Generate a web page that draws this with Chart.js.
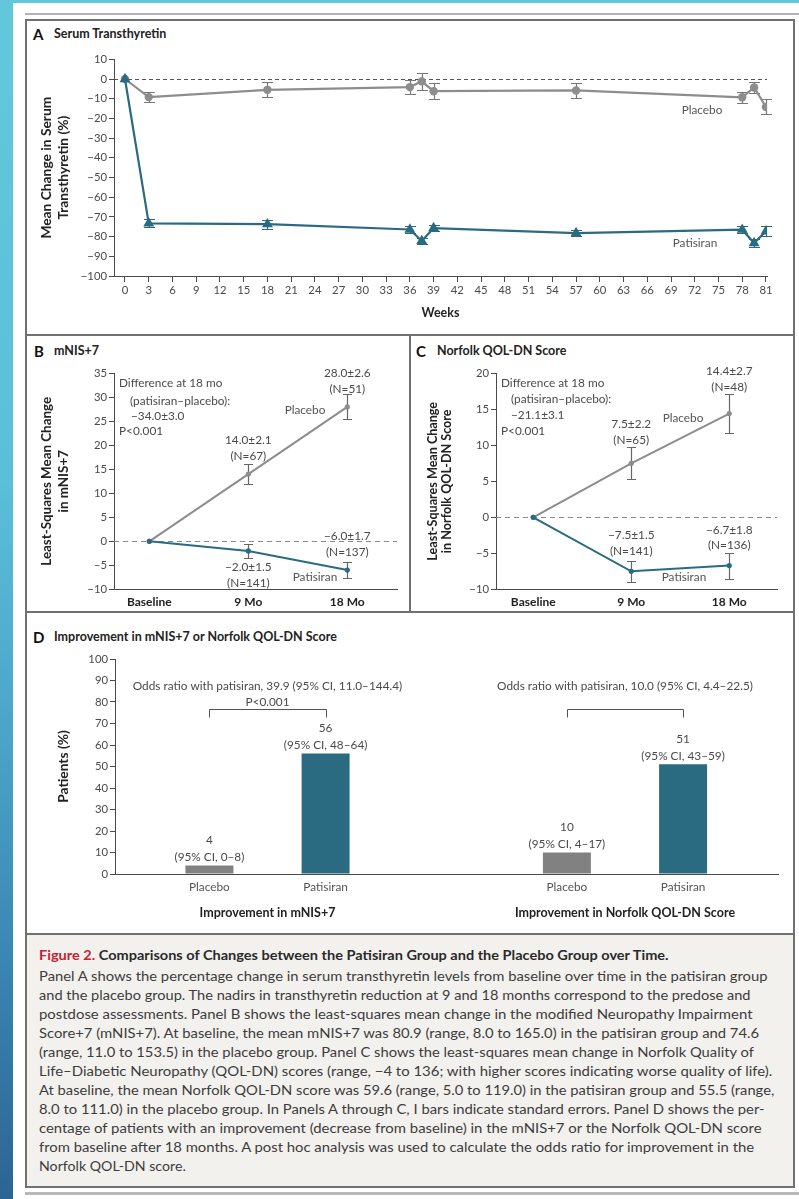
<!DOCTYPE html>
<html>
<head>
<meta charset="utf-8">
<title>Patisiran vs Placebo — Figure 2</title>
<script src="https://cdn.jsdelivr.net/npm/chart.js@4.4.1/dist/chart.umd.min.js"></script>
<style>
  html, body { margin:0; padding:0; background:#fff; }
  body { position:relative; width:799px; height:1199px; overflow:hidden; font-family:Lato,"Open Sans",sans-serif; color:#444; }
  .a { position:absolute; white-space:nowrap; line-height:1; }
  .c { transform:translate(-50%,-50%); }
  .l { transform:translateY(-50%); }
  canvas { position:absolute; }
  .pletter { font-weight:700; font-size:15px; color:#111; }
  .ptitle { font-weight:700; font-size:12.5px; color:#222; }
  .note { font-size:11.8px; color:#4a4a4a; }
  .series { font-size:11.8px; color:#555; }
  #strip { left:0; top:0; width:13px; height:1199px; background:linear-gradient(to bottom,#63c7dc 0%,#5bbfd9 40%,#4aa3c8 62%,#3a86b4 80%,#2c6494 100%); }
  #topband { left:13px; top:0; width:786px; height:3px; background:#62c6dc; }
  #ruleTop { left:25px; top:13px; width:774px; height:2px; background:#b3b3b3; }
  #frame { left:25px; top:19px; width:770px; height:1169px; border:2px solid #717171; box-sizing:border-box; }
  .sep { position:absolute; background:#717171; }
  #capbg { left:27px; top:935px; width:766px; height:251px; background:#f3f1ee; }
  #ruleBot { left:25px; top:1192px; width:774px; height:3px; background:#b8b8b8; }
  .capline { font-size:13.5px; color:#3c3c3c; transform-origin:0 50%; }
  .captitle { font-size:14px; font-weight:700; color:#2a2a2a; transform-origin:0 50%; }
  .captitle span { color:#c8202f; }
</style>
</head>
<body>
<div class="a" id="strip"></div>
<div class="a" id="topband"></div>
<div class="a" id="ruleTop"></div>
<div class="a" id="capbg"></div>
<div class="a" id="frame"></div>
<div class="sep" style="left:25px;top:334px;width:770px;height:2px;"></div>
<div class="sep" style="left:409px;top:335px;width:2px;height:277px;"></div>
<div class="sep" style="left:25px;top:611px;width:770px;height:2px;"></div>
<div class="sep" style="left:25px;top:933px;width:770px;height:2px;"></div>
<div class="a" id="ruleBot"></div>

<!-- panel headings -->
<div class="a l pletter" style="left:33px;top:34px;">A</div>
<div class="a l ptitle" style="left:54px;top:34px;">Serum Transthyretin</div>
<div class="a l pletter" style="left:34px;top:351px;">B</div>
<div class="a l ptitle" style="left:54px;top:351px;">mNIS+7</div>
<div class="a l pletter" style="left:416px;top:351px;">C</div>
<div class="a l ptitle" style="left:437px;top:351px;">Norfolk QOL-DN Score</div>
<div class="a l pletter" style="left:33px;top:637px;">D</div>
<div class="a l ptitle" style="left:54px;top:637px;">Improvement in mNIS+7 or Norfolk QOL-DN Score</div>

<canvas id="chartA" width="760" height="280" style="left:30px;top:45px;"></canvas>
<canvas id="chartB" width="375" height="250" style="left:30px;top:360px;"></canvas>
<canvas id="chartC" width="378" height="250" style="left:412px;top:360px;"></canvas>
<canvas id="chartD" width="760" height="285" style="left:30px;top:640px;"></canvas>

<!-- series names and summary notes -->
<div class="a c series" style="left:702px;top:110px;">Placebo</div>
<div class="a c series" style="left:695px;top:243px;">Patisiran</div>

<div class="a l note" style="left:119px;top:383px;">Difference at 18 mo</div>
<div class="a l note" style="left:130px;top:401px;">(patisiran–placebo):</div>
<div class="a l note" style="left:131px;top:416px;">−34.0±3.0</div>
<div class="a l note" style="left:119px;top:431px;">P&lt;0.001</div>
<div class="a c series" style="left:305px;top:410px;">Placebo</div>
<div class="a c series" style="left:315px;top:577px;">Patisiran</div>

<div class="a l note" style="left:501px;top:383px;">Difference at 18 mo</div>
<div class="a l note" style="left:511px;top:399px;">(patisiran–placebo):</div>
<div class="a l note" style="left:511px;top:415px;">−21.1±3.1</div>
<div class="a l note" style="left:501px;top:431px;">P&lt;0.001</div>
<div class="a c series" style="left:683px;top:418px;">Placebo</div>
<div class="a c series" style="left:684px;top:577px;">Patisiran</div>

<!-- legend text -->
<div class="a l captitle" style="left:39px;top:955px;"><span>Figure 2.</span> Comparisons of Changes between the Patisiran Group and the Placebo Group over Time.</div>
<div class="a l capline" style="left:39px;top:977px;">Panel A shows the percentage change in serum transthyretin levels from baseline over time in the patisiran group</div>
<div class="a l capline" style="left:39px;top:996px;">and the placebo group. The nadirs in transthyretin reduction at 9 and 18 months correspond to the predose and</div>
<div class="a l capline" style="left:39px;top:1015px;">postdose assessments. Panel B shows the least-squares mean change in the modified Neuropathy Impairment</div>
<div class="a l capline" style="left:39px;top:1034px;">Score+7 (mNIS+7). At baseline, the mean mNIS+7 was 80.9 (range, 8.0 to 165.0) in the patisiran group and 74.6</div>
<div class="a l capline" style="left:39px;top:1053px;">(range, 11.0 to 153.5) in the placebo group. Panel C shows the least-squares mean change in Norfolk Quality of</div>
<div class="a l capline" style="left:39px;top:1072px;">Life–Diabetic Neuropathy (QOL-DN) scores (range, −4 to 136; with higher scores indicating worse quality of life).</div>
<div class="a l capline" style="left:39px;top:1091px;">At baseline, the mean Norfolk QOL-DN score was 59.6 (range, 5.0 to 119.0) in the patisiran group and 55.5 (range,</div>
<div class="a l capline" style="left:39px;top:1110px;">8.0 to 111.0) in the placebo group. In Panels A through C, I bars indicate standard errors. Panel D shows the per-</div>
<div class="a l capline" style="left:39px;top:1129px;">centage of patients with an improvement (decrease from baseline) in the mNIS+7 or the Norfolk QOL-DN score</div>
<div class="a l capline" style="left:39px;top:1148px;">from baseline after 18 months. A post hoc analysis was used to calculate the odds ratio for improvement in the</div>
<div class="a l capline" style="left:39px;top:1167px;">Norfolk QOL-DN score.</div>

<script>
// ---------- Panel A: serum transthyretin, % change from baseline ----------
const weekTicks = [0, 3, 6, 9, 12, 15, 18, 21, 24, 27, 30, 33, 36, 39, 42, 45, 48, 51, 54, 57, 60, 63, 66, 69, 72, 75, 78, 81];
const ttrWeeks = [0, 3, 18, 36, 37.5, 39, 57, 78, 79.5, 81];
const placeboTTR = [0, -9.2, -5.5, -4.1, -1.2, -6.2, -5.8, -9.3, -4.3, -14.2];
const placeboTTRse = [0, 2.5, 3.8, 3.6, 4.4, 4.2, 4.0, 2.7, 2.8, 3.8];
const patisiranTTR = [0, -73.3, -73.7, -76.4, -82.2, -75.7, -78.2, -76.5, -83.3, -77.3];
const patisiranTTRse = [0, 2.0, 2.2, 1.6, 1.6, 1.6, 1.5, 1.8, 2.0, 2.5];

// ---------- Panels B and C: least-squares mean change ----------
const visits = ['Baseline', '9 Mo', '18 Mo'];
const placeboMnis = [0, 14.0, 28.0];
const placeboMnisSE = [0, 2.1, 2.6];
const placeboMnisN = [null, 67, 51];
const patisiranMnis = [0, -2.0, -6.0];
const patisiranMnisSE = [0, 1.5, 1.7];
const patisiranMnisN = [null, 141, 137];

const placeboQol = [0, 7.5, 14.4];
const placeboQolSE = [0, 2.2, 2.7];
const placeboQolN = [null, 65, 48];
const patisiranQol = [0, -7.5, -6.7];
const patisiranQolSE = [0, 1.5, 1.8];
const patisiranQolN = [null, 141, 136];

// ---------- Panel D: patients with improvement at 18 months ----------
const improvementGroups = ['Improvement in mNIS+7', 'Improvement in Norfolk QOL-DN Score'];
const armNames = ['Placebo', 'Patisiran'];
const improvedPlacebo = [4, 10];
const improvedPlaceboLow = [0, 4];
const improvedPlaceboHigh = [8, 17];
const improvedPatisiran = [56, 51];
const improvedPatisiranLow = [48, 43];
const improvedPatisiranHigh = [64, 59];
const oddsRatio = [39.9, 10.0];
const oddsLow = [11.0, 4.4];
const oddsHigh = [144.4, 22.5];
const oddsP = ['P<0.001', null];

// ---------- shared styling ----------
const GRAY = '#8d8d8d';
const TEAL = '#2a6b81';
const AXIS = '#4a4a4a';
const FONT = 'Lato, "Open Sans", sans-serif';
Chart.defaults.font.family = FONT;
Chart.defaults.color = '#444';
Chart.defaults.animation = false;

const minus = v => (v < 0 ? '\u2212' : '') + Math.abs(v);
const minus1 = v => (v < 0 ? '\u2212' : '') + Math.abs(v).toFixed(1);
const pts = (xs, ys) => ys.map((y, i) => ({ x: xs[i], y }));

function text(ctx, str, x, y, size, color, weight, align) {
  ctx.save();
  ctx.font = `${weight || 'normal'} ${size}px ${FONT}`;
  ctx.fillStyle = color;
  ctx.textAlign = align || 'center';
  ctx.textBaseline = 'middle';
  ctx.fillText(str, x, y);
  ctx.restore();
}

// I-bars (standard errors) from each dataset's `errors` array
const errorBars = {
  id: 'errorBars',
  beforeDatasetsDraw(chart) {
    const { ctx, scales: { y } } = chart;
    chart.data.datasets.forEach((ds, di) => {
      if (!ds.errors) return;
      const meta = chart.getDatasetMeta(di);
      ctx.save();
      ctx.strokeStyle = ds.errorColor;
      ctx.lineWidth = 1.2;
      ds.data.forEach((p, i) => {
        const e = ds.errors[i];
        if (!e) return;
        const px = Math.round(meta.data[i].x) + 0.5;
        const yt = Math.round(y.getPixelForValue(p.y + e)) + 0.5;
        const yb = Math.round(y.getPixelForValue(p.y - e)) + 0.5;
        const h = ds.capWidth / 2;
        ctx.beginPath();
        ctx.moveTo(px, yt); ctx.lineTo(px, yb);
        ctx.moveTo(px - h, yt); ctx.lineTo(px + h, yt);
        ctx.moveTo(px - h, yb); ctx.lineTo(px + h, yb);
        ctx.stroke();
      });
      ctx.restore();
    });
  }
};

// dashed reference line at zero change
function zeroLine(color, dash) {
  return {
    id: 'zeroLine',
    beforeDatasetsDraw(chart) {
      const { ctx, chartArea, scales: { y } } = chart;
      const yy = Math.round(y.getPixelForValue(0)) + 0.5;
      ctx.save();
      ctx.strokeStyle = color;
      ctx.lineWidth = 1;
      ctx.setLineDash(dash);
      ctx.beginPath();
      ctx.moveTo(chartArea.left, yy);
      ctx.lineTo(chartArea.right, yy);
      ctx.stroke();
      ctx.restore();
    }
  };
}

function axisY(min, max, step, width, title, titleSize, lineHeight, titlePad) {
  return {
    min, max,
    afterFit: s => { s.width = width; },
    ticks: { stepSize: step, callback: v => minus(v), font: { size: 11.3 }, color: AXIS, padding: 2 },
    grid: { drawOnChartArea: false, drawTicks: true, tickLength: 5, color: AXIS },
    border: { color: AXIS, width: 1 },
    title: { display: true, text: title, color: '#222', font: { size: titleSize, weight: 'bold', lineHeight }, padding: { top: titlePad, bottom: 0 } }
  };
}

// ---------- Chart A ----------
new Chart(document.getElementById('chartA'), {
  type: 'line',
  data: {
    datasets: [
      {
        label: 'Patisiran', data: pts(ttrWeeks, patisiranTTR), errors: patisiranTTRse,
        errorColor: TEAL, capWidth: 11,
        borderColor: TEAL, backgroundColor: TEAL, borderWidth: 2.2,
        pointStyle: 'triangle', pointRadius: 6.3, pointBorderWidth: 0, tension: 0
      },
      {
        label: 'Placebo', data: pts(ttrWeeks, placeboTTR), errors: placeboTTRse,
        errorColor: '#777', capWidth: 11,
        borderColor: GRAY, backgroundColor: GRAY, borderWidth: 2.2,
        pointStyle: 'circle', pointRadius: 4.2, pointBorderWidth: 0, tension: 0
      }
    ]
  },
  options: {
    responsive: false, devicePixelRatio: 1,
    layout: { padding: { top: 14.3, right: 23, bottom: 0, left: 0 } },
    plugins: { legend: { display: false }, tooltip: { enabled: false } },
    scales: {
      x: {
        type: 'linear', min: -1.39, max: 81.13,
        afterBuildTicks: s => { s.ticks = weekTicks.map(v => ({ value: v })); },
        afterFit: s => { s.height = 49; },
        ticks: { font: { size: 11.3 }, color: AXIS, padding: 1.4, maxRotation: 0, autoSkip: false, callback: v => String(v) },
        grid: { drawOnChartArea: false, drawTicks: true, tickLength: 6, color: AXIS },
        border: { color: AXIS, width: 1 },
        title: { display: true, text: 'Weeks', color: '#222', font: { size: 12.5, weight: 'bold' }, padding: { top: 0, bottom: 4.5 } }
      },
      y: axisY(-100, 10, 10, 84, ['Mean Change in Serum', 'Transthyretin (%)'], 13.8, 1.2, 8.4)
    }
  },
  plugins: [zeroLine('#555', [4, 3]), errorBars]
});

// ---------- Charts B and C ----------
function changeChart(id, pVals, pSE, pN, tVals, tSE, tN, yMin, yMax, xMin, xMax, padRight, title, titleSize, lineHeight, titlePad, labelDy, lineGap) {
  const valueLabels = {
    id: 'valueLabels',
    afterDatasetsDraw(chart) {
      const { ctx } = chart;
      const series = [
        { meta: chart.getDatasetMeta(1), vals: pVals, se: pSE, n: pN, dy: labelDy.placebo },
        { meta: chart.getDatasetMeta(0), vals: tVals, se: tSE, n: tN, dy: labelDy.patisiran }
      ];
      series.forEach(s => {
        s.vals.forEach((v, i) => {
          if (s.n[i] == null) return;
          const el = s.meta.data[i];
          const y1 = el.y + s.dy[i];
          text(ctx, `${minus1(v)}\u00b1${s.se[i].toFixed(1)}`, el.x, y1, 11.8, '#4a4a4a');
          text(ctx, `(N=${s.n[i]})`, el.x, y1 + lineGap, 11.8, '#4a4a4a');
        });
      });
    }
  };
  const idx = visits.map((_, i) => i);
  return new Chart(document.getElementById(id), {
    type: 'line',
    data: {
      datasets: [
        {
          label: 'Patisiran', data: pts(idx, tVals), errors: tSE, errorColor: '#666', capWidth: 9,
          borderColor: TEAL, backgroundColor: TEAL, borderWidth: 2, pointRadius: 2.6, pointBorderWidth: 0, tension: 0
        },
        {
          label: 'Placebo', data: pts(idx, pVals), errors: pSE, errorColor: '#666', capWidth: 9,
          borderColor: GRAY, backgroundColor: GRAY, borderWidth: 2, pointRadius: 2.6, pointBorderWidth: 0, tension: 0
        }
      ]
    },
    options: {
      responsive: false, devicePixelRatio: 1,
      layout: { padding: { top: 13.3, right: padRight, bottom: 0, left: 0 } },
      plugins: { legend: { display: false }, tooltip: { enabled: false } },
      scales: {
        x: {
          type: 'linear', min: xMin, max: xMax,
          afterBuildTicks: s => { s.ticks = idx.map(v => ({ value: v })); },
          afterFit: s => { s.height = 20.7; },
          ticks: { font: { size: 12, weight: 'bold' }, color: '#222', padding: 5.2, maxRotation: 0, autoSkip: false, callback: v => visits[v] },
          grid: { drawOnChartArea: false, drawTicks: false },
          border: { color: AXIS, width: 1 }
        },
        y: axisY(yMin, yMax, 5, 84, title, titleSize, lineHeight, titlePad)
      }
    },
    plugins: [zeroLine('#8a8a8a', [5, 4]), errorBars, valueLabels]
  });
}

changeChart('chartB', placeboMnis, placeboMnisSE, placeboMnisN, patisiranMnis, patisiranMnisSE, patisiranMnisN,
  -10, 35, -0.357, 2.502, 8, ['Least-Squares Mean Change', 'in mNIS+7'], 13.4, 1.3, 7.9,
  { placebo: [0, -34, -34], patisiran: [0, 16, -34.4] }, 16);

changeChart('chartC', placeboQol, placeboQolSE, placeboQolN, patisiranQol, patisiranQolSE, patisiranQolN,
  -10, 20, -0.38, 2.487, 13, ['Least-Squares Mean Change', 'in Norfolk QOL-DN Score'], 12.6, 1.1, 14.4,
  { placebo: [0, -39, -42], patisiran: [0, -36, -35.5] }, 15.5);

// ---------- Chart D ----------
const improvementNotes = {
  id: 'improvementNotes',
  afterDatasetsDraw(chart) {
    const { ctx, chartArea, scales: { y } } = chart;
    const mP = chart.getDatasetMeta(0), mT = chart.getDatasetMeta(1);
    improvementGroups.forEach((g, i) => {
      const b0 = mP.data[i], b1 = mT.data[i];
      text(ctx, String(improvedPlacebo[i]), b0.x, b0.y - 25, 11.8, '#4a4a4a');
      text(ctx, `(95% CI, ${improvedPlaceboLow[i]}\u2013${improvedPlaceboHigh[i]})`, b0.x, b0.y - 8.5, 11.8, '#4a4a4a');
      text(ctx, String(improvedPatisiran[i]), b1.x, b1.y - 25, 11.8, '#4a4a4a');
      text(ctx, `(95% CI, ${improvedPatisiranLow[i]}\u2013${improvedPatisiranHigh[i]})`, b1.x, b1.y - 8.5, 11.8, '#4a4a4a');
      text(ctx, armNames[0], b0.x, chartArea.bottom + 13, 11.8, '#555');
      text(ctx, armNames[1], b1.x, chartArea.bottom + 13, 11.8, '#555');
      // comparison bracket
      const yb = Math.round(y.getPixelForValue(76.7)) + 0.5;
      const yl = Math.round(y.getPixelForValue(73.0)) + 0.5;
      const x0 = Math.round(b0.x) + 0.5, x1 = Math.round(b1.x) + 0.5;
      ctx.save();
      ctx.strokeStyle = '#555'; ctx.lineWidth = 1;
      ctx.beginPath();
      ctx.moveTo(x0, yl); ctx.lineTo(x0, yb); ctx.lineTo(x1, yb); ctx.lineTo(x1, yl);
      ctx.stroke();
      ctx.restore();
      const mid = (b0.x + b1.x) / 2;
      text(ctx, `Odds ratio with patisiran, ${oddsRatio[i].toFixed(1)} (95% CI, ${oddsLow[i].toFixed(1)}\u2013${oddsHigh[i].toFixed(1)})`, mid, y.getPixelForValue(87.4), 11.8, '#4a4a4a');
      if (oddsP[i]) text(ctx, oddsP[i], mid, y.getPixelForValue(80.0), 11.8, '#4a4a4a');
    });
  }
};

const groupIdx = improvementGroups.map((_, i) => i);
new Chart(document.getElementById('chartD'), {
  type: 'bar',
  data: {
    datasets: [
      { label: 'Placebo', data: pts(groupIdx, improvedPlacebo), backgroundColor: '#818181', categoryPercentage: 0.65, barPercentage: 0.413 },
      { label: 'Patisiran', data: pts(groupIdx, improvedPatisiran), backgroundColor: TEAL, categoryPercentage: 0.65, barPercentage: 0.413 }
    ]
  },
  options: {
    responsive: false, devicePixelRatio: 1,
    layout: { padding: { top: 19, right: 12, bottom: 0, left: 0 } },
    plugins: { legend: { display: false }, tooltip: { enabled: false } },
    scales: {
      x: {
        type: 'linear', min: -0.4266, max: 1.428, offset: false,
        afterBuildTicks: s => { s.ticks = groupIdx.map(v => ({ value: v })); },
        afterFit: s => { s.height = 51; },
        ticks: { font: { size: 12.5, weight: 'bold' }, color: '#222', padding: 31.5, maxRotation: 0, autoSkip: false, callback: v => improvementGroups[v] },
        grid: { drawOnChartArea: false, drawTicks: false, offset: false },
        border: { color: AXIS, width: 1 }
      },
      y: axisY(0, 100, 10, 85, 'Patients (%)', 13.8, 1.2, 25)
    }
  },
  plugins: [improvementNotes]
});

// ---------- legend text: fit each line to its measure ----------
const captionEnds = [768, 750, 753, 759, 754, 772, 774, 764, 761, 754, 186];
const capStart = 39;
document.querySelectorAll('.capline').forEach((el, i) => {
  const w = el.offsetWidth;
  el.style.transform = `translateY(-50%) scaleX(${(captionEnds[i] - capStart) / w})`;
});
const ct = document.querySelector('.captitle');
ct.style.transform = `translateY(-50%) scaleX(${(669 - capStart) / ct.offsetWidth})`;
</script>
</body>
</html>
